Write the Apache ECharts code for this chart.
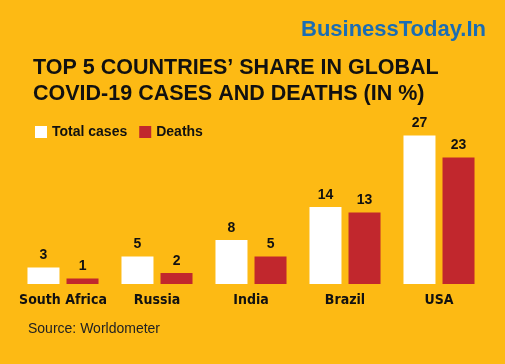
<!DOCTYPE html>
<html><head><meta charset="utf-8">
<script src="https://cdn.jsdelivr.net/npm/echarts@6/dist/echarts.min.js"></script>
<style>html,body{margin:0;padding:0;background:#FDBA14;}#c{width:505px;height:364px;}</style>
</head><body><div id="c"></div>
<script>
const categories = ['South Africa', 'Russia', 'India', 'Brazil', 'USA'];
const totalCases = [3, 5, 8, 14, 27];
const deaths = [1, 2, 5, 13, 23];
const seriesNames = ['Total cases', 'Deaths'];

const chart = echarts.init(document.getElementById('c'));
const labelStyle = {show: true, position: 'top', distance: 5, color: '#111', fontFamily: 'Liberation Sans', fontWeight: 'bold', fontSize: 14};
chart.setOption({
  backgroundColor: '#FDBA14',
  animation: false,
  title: [
    {text: 'TOP 5 COUNTRIES’ SHARE IN GLOBAL\nCOVID-19 CASES AND DEATHS (IN %)', left: 28, top: 50,
     textStyle: {fontFamily: 'Liberation Sans', fontWeight: 'bold', fontSize: 21.5, lineHeight: 26, color: '#111'}},
    {text: 'BusinessToday.In', right: 14, top: 14,
     textStyle: {fontFamily: 'Liberation Sans', fontWeight: 'bold', fontSize: 22, color: '#1B6DB3'}},
    {text: 'Source: Worldometer', left: 23, top: 317,
     textStyle: {fontFamily: 'Liberation Sans', fontWeight: 'normal', fontSize: 14, color: '#222'}}
  ],
  legend: {
    data: seriesNames, left: 30, top: 120, itemWidth: 12, itemHeight: 12, itemGap: 12,
    icon: 'rect',
    textStyle: {fontFamily: 'Liberation Sans', fontWeight: 'bold', fontSize: 14, color: '#111'}
  },
  grid: {left: 16, right: 19, top: 119, bottom: 80},
  xAxis: {
    type: 'category', data: categories,
    axisLine: {show: false}, axisTick: {show: false},
    axisLabel: {interval: 0, margin: 9, fontFamily: 'DejaVu Sans Condensed', fontWeight: 'bold', fontSize: 14, color: '#111'}
  },
  yAxis: {type: 'value', min: 0, max: 30, show: false, splitLine: {show: false}},
  series: [
    {name: seriesNames[0], type: 'bar', data: totalCases, barWidth: 32, barGap: '22%',
     itemStyle: {color: '#FFFFFF'}, label: labelStyle},
    {name: seriesNames[1], type: 'bar', data: deaths, barWidth: 32,
     itemStyle: {color: '#C1272D'}, label: labelStyle}
  ]
});
</script></body></html>
